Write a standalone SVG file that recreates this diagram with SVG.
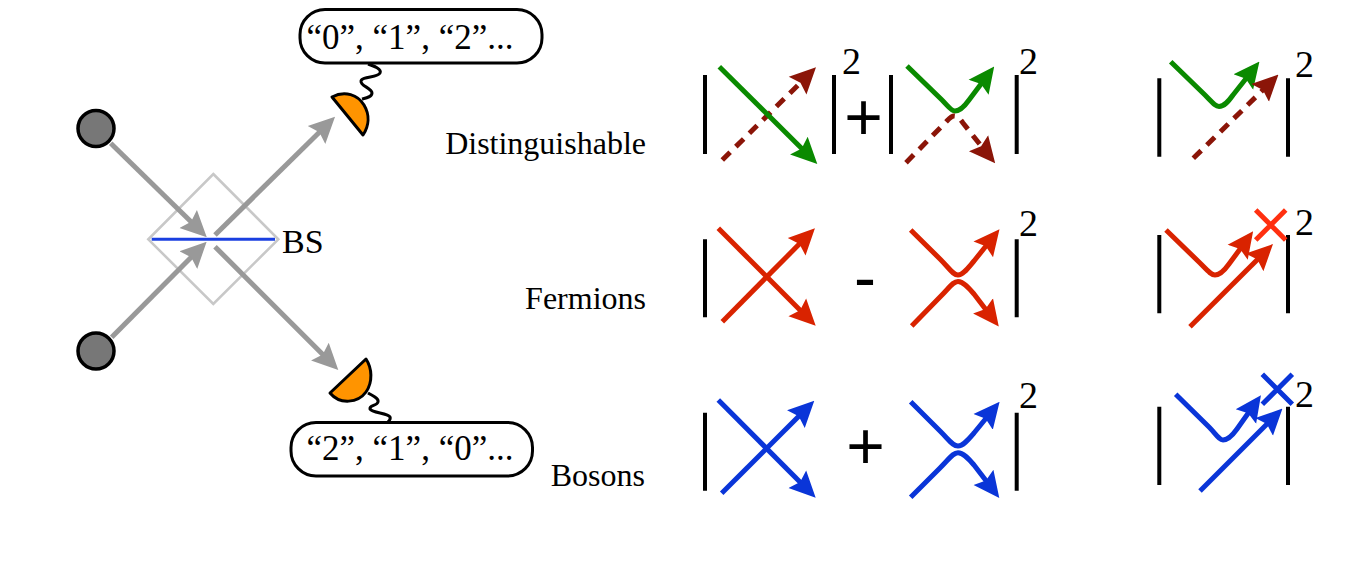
<svg xmlns="http://www.w3.org/2000/svg" width="1366" height="576" viewBox="0 0 1366 576">
<style>
text{font-family:"Liberation Serif","Times New Roman",serif;fill:#000}
.read{font-size:35px}
.lab{font-size:32px;text-anchor:end}
.sup{font-size:38px}
.op{font-family:"Liberation Sans",Arial,sans-serif;font-size:66px;text-anchor:middle}
.bar{stroke:#000;stroke-width:4;fill:none}
.l{fill:none;stroke-linecap:butt;stroke-linejoin:round}
.gy{stroke:#999;stroke-width:5;marker-end:url(#hG)}
.gr{stroke:#0a8a00;stroke-width:5;marker-end:url(#hGr)}
.dr{stroke:#8b1508;stroke-width:5;stroke-dasharray:11 8}
.dra{marker-end:url(#hD)}
.rd{stroke:#d92300;stroke-width:5;marker-end:url(#hR)}
.bl{stroke:#0a35d8;stroke-width:5;marker-end:url(#hB)}
.det{fill:#ff9400;stroke:#000;stroke-width:3;stroke-linejoin:round}
.wig{fill:none;stroke:#000;stroke-width:3}
.box{fill:#fff;stroke:#000;stroke-width:3}
.src{fill:#777;stroke:#000;stroke-width:3.5}
</style>
<defs>
<marker id="hG" markerUnits="userSpaceOnUse" markerWidth="26" markerHeight="28" viewBox="0 0 26 28" refX="14" refY="14" orient="auto"><path d="M0,1.5L26,14L0,26.5L4,14Z" fill="#999"/></marker>
<marker id="hGr" markerUnits="userSpaceOnUse" markerWidth="26" markerHeight="28" viewBox="0 0 26 28" refX="14" refY="14" orient="auto"><path d="M0,1.5L26,14L0,26.5L4,14Z" fill="#0a8a00"/></marker>
<marker id="hD" markerUnits="userSpaceOnUse" markerWidth="26" markerHeight="28" viewBox="0 0 26 28" refX="14" refY="14" orient="auto"><path d="M0,1.5L26,14L0,26.5L4,14Z" fill="#8b1508"/></marker>
<marker id="hR" markerUnits="userSpaceOnUse" markerWidth="26" markerHeight="28" viewBox="0 0 26 28" refX="14" refY="14" orient="auto"><path d="M0,1.5L26,14L0,26.5L4,14Z" fill="#d92300"/></marker>
<marker id="hB" markerUnits="userSpaceOnUse" markerWidth="26" markerHeight="28" viewBox="0 0 26 28" refX="14" refY="14" orient="auto"><path d="M0,1.5L26,14L0,26.5L4,14Z" fill="#0a35d8"/></marker>
</defs>

<g id="beam-splitter">
<path d="M213.3,174L278.3,239.3L213.3,304L148.3,239.3Z" fill="none" stroke="#c8c8c8" stroke-width="2.6"/>
<path d="M151.7,239.3H275" stroke="#1a3fe0" stroke-width="3"/>
<text x="282" y="253" font-size="34">BS</text>
</g>

<g id="connectors">
<path class="l gy" d="M110.7,143.3L198.2,228.8"/>
<path class="l gy" d="M111.7,337.3L198.2,250.2"/>
<path class="l gy" d="M215,235L326.5,125.2"/>
<path class="l gy" d="M215,246.7L329.8,361.5"/>
</g>

<g id="source-top"><circle class="src" cx="96" cy="128.5" r="18"/></g>
<g id="source-bottom"><circle class="src" cx="96" cy="351" r="18"/></g>

<g id="detector-top">
<path class="wig" d="M368,64C374,66 382,69 380,73C378,78 362,76 361,81C360,86 372,88 372,93C372,97 366,98 362,99"/>
<path class="det" d="M332,97C345,90 358,95 364,105C370,115 369,126 363,135Z"/>
</g>
<g id="detector-bottom">
<path class="wig" d="M368,393C373,396 379,398 378,402C377,406 369,405 370,409C372,413 388,413 390,417C391,419 389,421 388,422"/>
<path class="det" d="M330,393L366,359C372,368 373,382 366,392C358,403 340,405 330,393Z"/>
</g>

<g id="readout-top">
<rect class="box" x="300" y="9.5" width="242" height="53.5" rx="25"/>
<text class="read" x="306.5" y="48.5">“0”, “1”, “2”...</text>
</g>
<g id="readout-bottom">
<rect class="box" x="291" y="422.5" width="241.5" height="53.5" rx="25"/>
<text class="read" x="306.5" y="460">“2”, “1”, “0”...</text>
</g>

<g id="labels">
<text class="lab" x="646" y="153.5">Distinguishable</text>
<text class="lab" x="646" y="308.5">Fermions</text>
<text class="lab" x="645" y="486">Bosons</text>
</g>

<g id="row-distinguishable">
<path class="bar" d="M705,75V154M834,75V154M891,75V154M1016.7,75V154"/>
<text class="sup" x="842" y="73.5">2</text>
<text class="op" x="863.5" y="140">+</text>
<text class="sup" x="1019" y="73.5">2</text>
<path class="l dr" d="M722.3,160L807.5,75.8"/>
<path class="l dra" d="M807,76.3L807.5,75.8" stroke="#8b1508" stroke-width="5"/>
<path class="l gr" d="M719.3,66.7L808.8,155.5"/>
<path class="l gr" d="M907,66L942,100C948,106 951,111 955,111C960,111 964,107 969,100L987,76"/>
<path class="l dr" d="M906,162.7L945,123C949,119 951,116 954,116C958,116 960,119 963,123L987.5,154"/>
<path class="l dra" d="M987,153.4L987.5,154" stroke="#8b1508" stroke-width="5"/>
</g>

<g id="row-fermions">
<path class="bar" d="M705,239.3V317.3M1016.7,239.3V317.3"/>
<text class="sup" x="1019" y="236">2</text>
<text class="op" x="865" y="300" font-size="60">-</text>
<path class="l rd" d="M718.3,228.3L807.2,317.2"/>
<path class="l rd" d="M722.3,321.7L806.5,236.8"/>
<path class="l rd" d="M910.7,230L940,259C950,269 953,275 958,275C963,275 968,268 974,261L992,238.5"/>
<path class="l rd" d="M911.7,326L940,297C950,287 953,281.5 958,281.5C963,281.5 968,287 974,294L991.5,317"/>
</g>

<g id="row-bosons">
<path class="bar" d="M705,412.7V490.7M1016.7,412.7V490.7"/>
<text class="sup" x="1019" y="407.7">2</text>
<text class="op" x="865.5" y="469">+</text>
<path class="l bl" d="M718.3,400L807.2,489.2"/>
<path class="l bl" d="M721.7,493.3L805.8,409.2"/>
<path class="l bl" d="M910.7,401.7L940,431C950,441 953,446 958,446C963,446 968,440 974,433L992,411"/>
<path class="l bl" d="M910.7,497.3L940,468C950,458 953,452.7 958,452.7C963,452.7 968,458 974,465L992,488.5"/>
</g>

<g id="result-distinguishable">
<path class="bar" d="M1159.3,78.3V156.7M1288,78.3V156.7"/>
<text class="sup" x="1295" y="76.7">2</text>
<path class="l gr" d="M1170.7,61.7L1205,95C1212,102 1215,106.5 1219,106.5C1224,106.5 1228,102 1233,95L1252,71"/>
<path class="l dr" d="M1193.3,158.3L1270,83"/>
<path class="l dra" d="M1269.5,83.5L1270,83" stroke="#8b1508" stroke-width="5"/>
</g>

<g id="result-fermions">
<path class="bar" d="M1159.3,235V313.3M1288,235V313.3"/>
<text class="sup" x="1295" y="235">2</text>
<path class="l rd" d="M1166,230L1200,263C1207,270 1211,275 1215,275C1220,275 1224,271 1229,264L1246,241"/>
<path class="l rd" d="M1190,326.7L1264.5,252.5"/>
<path d="M1255.7,210L1285.7,240M1285.7,210L1255.7,240" stroke="#ff3010" stroke-width="5" fill="none"/>
</g>

<g id="result-bosons">
<path class="bar" d="M1159.3,406.7V485M1288,406.7V485"/>
<text class="sup" x="1295" y="406.7">2</text>
<path class="l bl" d="M1175.7,394.3L1209,427C1216,434 1219,440 1223,440C1228,440 1232,436 1237,429L1254,405"/>
<path class="l bl" d="M1200,491L1274,417"/>
<path d="M1262.3,374.3L1292.3,404.3M1292.3,374.3L1262.3,404.3" stroke="#0a35d8" stroke-width="5" fill="none"/>
</g>
</svg>
